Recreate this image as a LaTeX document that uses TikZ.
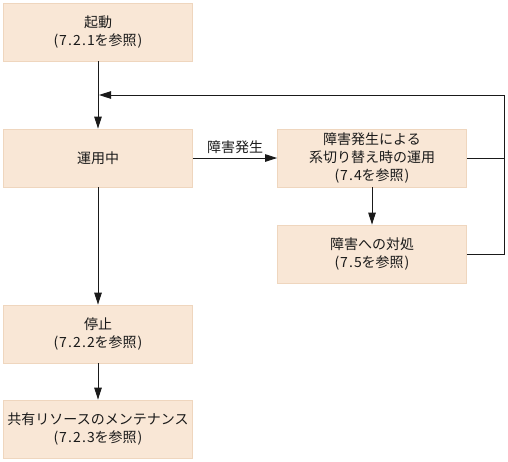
\documentclass[tikz,border=0pt]{standalone}
\usepackage{fontspec}
\setmainfont{Noto Sans CJK JP}
\usetikzlibrary{arrows.meta,positioning}
\definecolor{boxfill}{HTML}{F9E7D6}
\definecolor{boxline}{HTML}{EFD6BE}
\definecolor{ink}{HTML}{1A1A1A}
\def\hw#1{\hwloop#1\relax}
\def\hwloop#1{\ifx#1\relax\else\makebox[0.5em]{#1}\expandafter\hwloop\fi}
\tikzset{
  stepbox/.style={draw=boxline, fill=boxfill, line width=0.8pt, minimum width=189pt, minimum height=58pt,
    align=center, inner sep=0pt, text=ink, font=\fontsize{14}{18}\selectfont},
  conn/.style={draw=ink, line width=0.9pt},
  arr/.style={conn, -{Triangle[length=12pt,width=7.5pt]}},
  lbl/.style={text=ink, font=\fontsize{14}{18}\selectfont, inner sep=1pt}
}
\begin{document}
\begin{tikzpicture}[x=1pt,y=-1pt]
\useasboundingbox (0,0) rectangle (508,461);
\node[stepbox] (b1) at (98,32) {起動\\\hw{(7.2.1}を参照\hw{)}};
\node[stepbox] (b2) at (98,158) {運用中};
\node[stepbox] (b3) at (372,158) {障害発生による\\系切り替え時の運用\\\hw{(7.4}を参照\hw{)}};
\node[stepbox] (b4) at (372,254) {障害への対処\\\hw{(7.5}を参照\hw{)}};
\node[stepbox] (b5) at (98,334) {停止\\\hw{(7.2.2}を参照\hw{)}};
\node[stepbox] (b6) at (98,429) {共有リソースのメンテナンス\\\hw{(7.2.3}を参照\hw{)}};
\coordinate (rt) at (504,95);
\coordinate (lt) at (99,95);
\coordinate (rm) at (504,158);
\draw[arr] (b1) -- (b2);
\draw[arr] (b2) -- node[lbl, above=3pt] {障害発生} (b3);
\draw[arr] (b3) -- (b4);
\draw[arr] (b2) -- (b5);
\draw[arr] (b5) -- (b6);
\draw[conn] (b3.east) -- (rm);
\draw[arr] (b4.east) -| (rt) -- (lt);
\end{tikzpicture}
\end{document}
